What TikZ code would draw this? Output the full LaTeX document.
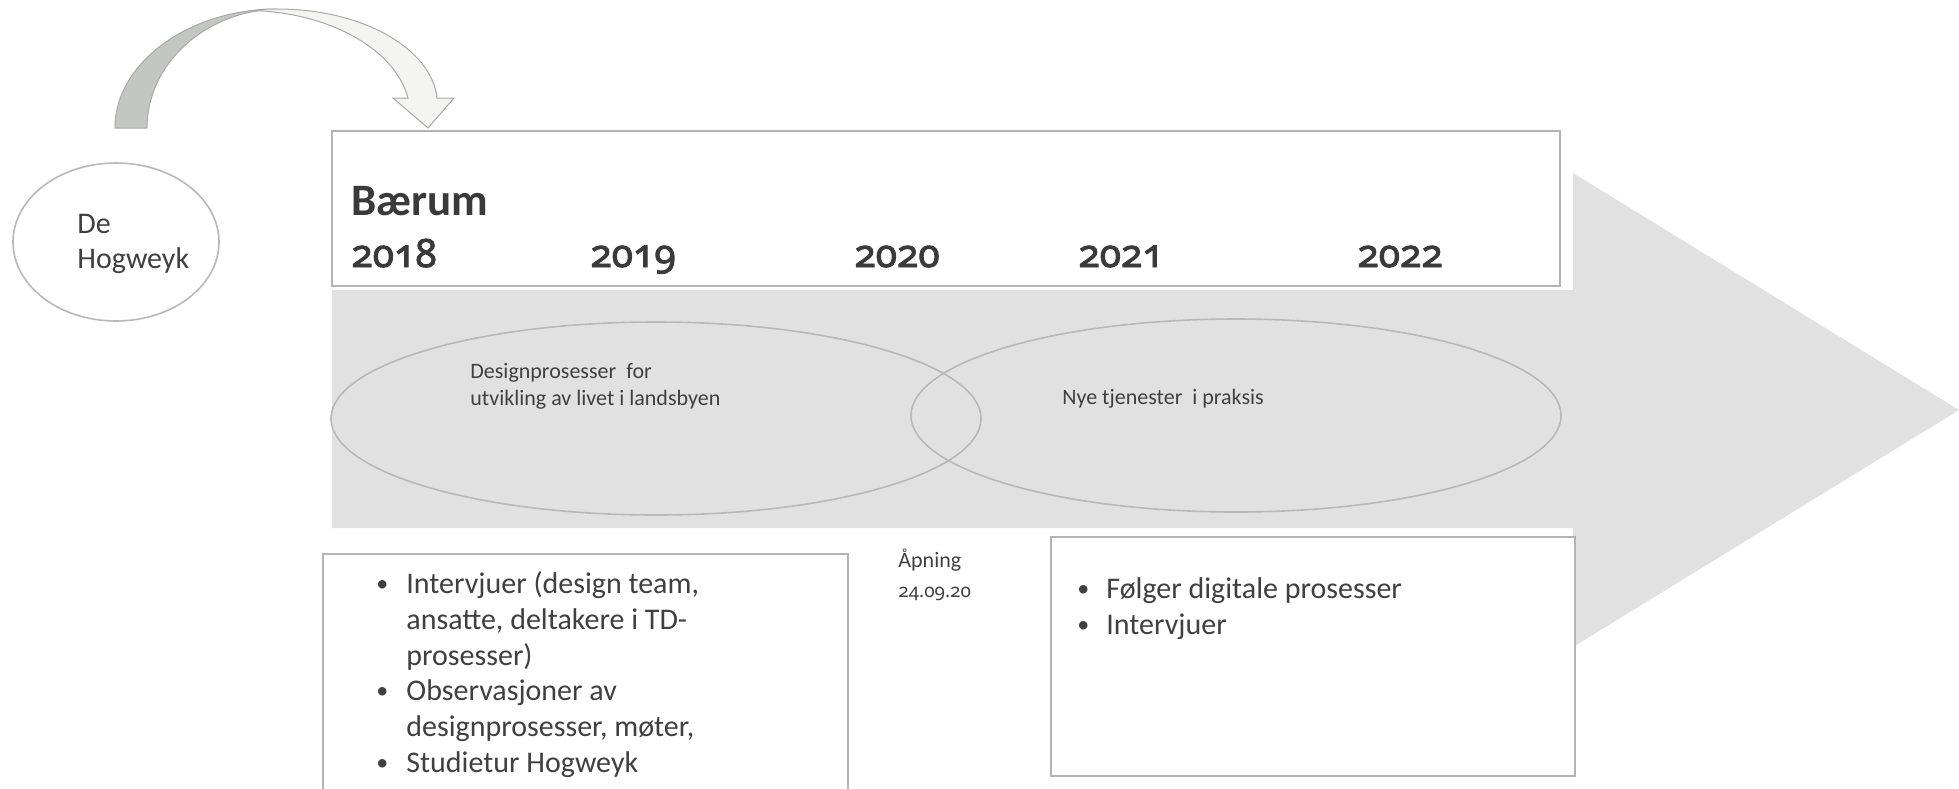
\documentclass[tikz,border=0pt]{standalone}
\usepackage{fontspec}
\setmainfont{Carlito}
\newfontfamily\osfam{Noto Sans}[Numbers=OldStyle]
\newfontfamily\osbold{Noto Sans}[Numbers=OldStyle, FakeBold=2.2]
\usetikzlibrary{shapes.geometric}
\definecolor{txt}{HTML}{404040}
\definecolor{txtdark}{HTML}{3A3A3A}
\definecolor{arrowgray}{HTML}{E1E1E1}
\definecolor{boxgray}{HTML}{B3B3B3}
\definecolor{ovalgray}{HTML}{B8B8B8}
\definecolor{backband}{HTML}{C4C6C3}
\definecolor{frontband}{HTML}{F4F5F3}
\definecolor{bandline}{HTML}{A8AAA7}
\begin{document}
\begin{tikzpicture}[x=0.5pt,y=-0.5pt,
  lbl/.style={anchor=base west, inner sep=0pt, text=txt},
  body/.style={lbl, font=\fontsize{15}{18}\selectfont},
  small/.style={lbl, font=\fontsize{11}{13}\selectfont},
  smallosf/.style={lbl, font=\osfam\fontsize{9.5}{12}\selectfont},
  big/.style={lbl, text=txtdark, font=\bfseries\fontsize{22.5}{27}\selectfont},
  year/.style={lbl, text=txtdark, font=\osbold\fontsize{19.5}{23}\selectfont},
  frame/.style={rectangle, draw=boxgray, line width=0.9pt, fill=white, inner sep=0pt},
  oval/.style={ellipse, draw=ovalgray, line width=0.8pt, inner sep=0pt},
  bul/.style={lbl, font=\fontsize{12}{14}\selectfont}]
\useasboundingbox (0,0) rectangle (1959,788);
\clip (0,0) rectangle (1959,788);
% big timeline arrow
\fill[arrowgray] (332,290) -- (1573,290) -- (1573,173) -- (1959,410)
  -- (1573,647) -- (1573,528) -- (332,528) -- cycle;
% top box
\node[frame, minimum width=614pt, minimum height=77.5pt] (baerumbox) at (946,208.5) {};
\node[big] (baerum) at (351,215) {Bærum};
\node[year] (y2018) at (351,267) {2018};
\node[year] (y2019) at (590,267) {2019};
\node[year] (y2020) at (854,267) {2020};
\node[year] (y2021) at (1078,267) {2021};
\node[year] (y2022) at (1357,267) {2022};
% ellipses on the arrow
\node[oval, minimum width=325pt, minimum height=96.5pt] (designoval) at (656,418.5) {};
\node[oval, minimum width=325pt, minimum height=96.5pt] (serviceoval) at (1236,415.5) {};
\node[small] (d1) at (470,378) {Designprosesser\ \ for};
\node[small] (d2) at (470,405) {utvikling av livet i landsbyen};
\node[small] (n1) at (1062,404) {Nye tjenester\ \ i praksis};
% Hogweyk ellipse
\node[oval, draw=ovalgray, fill=white, minimum width=103pt, minimum height=79pt] (hogoval) at (116,242) {};
\node[body] (h1) at (77,233) {De};
\node[body] (h2) at (77,268) {Hogweyk};
% curved arrow
\filldraw[fill=backband, draw=bandline, line width=0.5pt]
  (115,128) .. controls (115,62) and (190,9) .. (277,9)
  .. controls (205,11) and (147,64) .. (147,128) -- cycle;
\filldraw[fill=frontband, draw=bandline, line width=0.5pt]
  (255,10.5) .. controls (262,9.2) and (270,9) .. (277,9)
  .. controls (365,9) and (432,50) .. (437,98)
  -- (454,98) -- (428,128) -- (393,98) -- (408,98)
  .. controls (396,52) and (335,14) .. (255,10.5) -- cycle;
% left box
\node[frame, minimum width=262.5pt, minimum height=130pt] (leftbox) at (585.5,684) {};
\node[bul] (b1) at (376,591) {•};
\node[body] (l1) at (406,593) {Intervjuer (design team,};
\node[body] (l2) at (406,629) {ansatte, deltakere i TD-};
\node[body] (l3) at (406,665) {prosesser)};
\node[bul] (b2) at (376,698) {•};
\node[body] (l4) at (406,700) {Observasjoner av};
\node[body] (l5) at (406,736) {designprosesser, møter,};
\node[bul] (b3) at (376,770) {•};
\node[body] (l6) at (406,772) {Studietur Hogweyk};
% opening label
\node[small] (a1) at (898,567) {Åpning};
\node[smallosf] (a2) at (898,597) {24.09.20};
% right box
\node[frame, minimum width=262pt, minimum height=119.5pt] (rightbox) at (1313,656.5) {};
\node[bul] (b4) at (1077,596) {•};
\node[body] (r1) at (1106,598) {Følger digitale prosesser};
\node[bul] (b5) at (1077,632) {•};
\node[body] (r2) at (1106,634) {Intervjuer};
\end{tikzpicture}
\end{document}
